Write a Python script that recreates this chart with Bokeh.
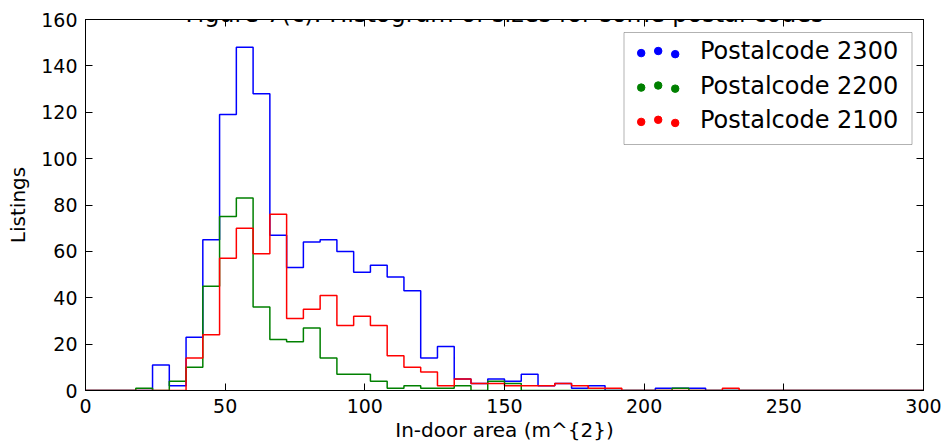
import numpy as np
from bokeh.plotting import figure
from bokeh.models import Range1d, FixedTicker, LinearAxis, Label, BoxAnnotation
from bokeh.embed import file_html
from bokeh.resources import INLINE

# ---- data -------------------------------------------------------------
bin_start = 0
bin_width = 6
n_bins = 50

counts_2300 = [0, 0, 0, 0, 11, 2, 23, 65, 119, 148, 128, 67, 53, 64, 65, 60, 51, 54,
               49, 43, 14, 19, 5, 3, 5, 4, 7, 2, 3, 1, 2, 0, 0, 0, 1, 1, 1, 0, 0, 0,
               0, 0, 0, 0, 0, 0, 0, 0, 0, 0]
counts_2200 = [0, 0, 0, 1, 0, 4, 10, 45, 75, 83, 36, 22, 21, 27, 14, 7, 7, 4,
               1, 2, 1, 1, 2, 0, 4, 3, 0, 0, 0, 0, 0, 0, 0, 0, 0, 1, 0, 0, 0, 0,
               0, 0, 0, 0, 0, 0, 0, 0, 0, 0]
counts_2100 = [0, 0, 0, 0, 0, 0, 14, 24, 57, 70, 59, 76, 31, 35, 41, 28, 32, 28,
               15, 10, 8, 2, 5, 3, 3, 2, 2, 2, 3, 2, 1, 1, 0, 0, 0, 0, 0, 0, 1, 0,
               0, 0, 0, 0, 0, 0, 0, 0, 0, 0]

series_labels = ["Postalcode 2300", "Postalcode 2200", "Postalcode 2100"]
series_counts = [counts_2300, counts_2200, counts_2100]
series_colors = ["#0000ff", "#008000", "#ff0000"]

x_ticks = [0, 50, 100, 150, 200, 250, 300]
y_ticks = [0, 20, 40, 60, 80, 100, 120, 140, 160]

title_text = "Figure 7(c): Histogram of sizes for some postal codes"
x_label = "In-door area (m^{2})"
y_label = "Listings"

FONT = "DejaVu Sans"

# ---- figure -----------------------------------------------------------
X0, X1, Y0, Y1 = 0, 300, 0, 160
FL, FR, FT, FB = 85.0, 923.0, 19.0, 390.0   # frame edges in page pixels
W, H = 943, 445
p = figure(width=W, height=H, output_backend="svg", toolbar_location=None,
           x_range=Range1d(X0, X1), y_range=Range1d(Y0, Y1),
           min_border_left=int(FL), min_border_right=int(W - FR),
           min_border_top=int(FT), min_border_bottom=int(H - FB))
p.background_fill_color = "white"
p.border_fill_color = "white"
p.outline_line_color = "black"
p.outline_line_width = 1
p.xgrid.visible = False
p.ygrid.visible = False


def style_axis(ax, ticks, show_labels=True):
    ax.ticker = FixedTicker(ticks=ticks)
    ax.major_tick_in = 7
    ax.major_tick_out = 0
    ax.minor_tick_in = 0
    ax.minor_tick_out = 0
    ax.major_tick_line_color = "black"
    ax.axis_line_color = "black"
    ax.axis_line_width = 1
    ax.major_label_text_font = FONT
    ax.axis_label_text_font = FONT
    ax.axis_label_text_font_style = "normal"
    ax.axis_label_text_color = "black"
    if show_labels:
        ax.major_label_text_color = "black"
        ax.major_label_text_font_size = "19px"
        ax.axis_label_text_font_size = "20px"
    else:
        ax.major_label_text_color = None
        ax.major_label_text_font_size = "1px"
        ax.major_label_standoff = 0


xa = p.xaxis[0]
ya = p.yaxis[0]
style_axis(xa, x_ticks)
style_axis(ya, y_ticks)
xa.axis_label = x_label
ya.axis_label = y_label
xa.major_label_standoff = 8
ya.major_label_standoff = 8
xa.axis_label_standoff = 2
ya.axis_label_standoff = 8

top_ax = LinearAxis()
right_ax = LinearAxis()
style_axis(top_ax, x_ticks, show_labels=False)
style_axis(right_ax, y_ticks, show_labels=False)
p.add_layout(top_ax, "above")
p.add_layout(right_ax, "right")

# ---- step histograms ----------------------------------------------------
edges = [bin_start + i * bin_width for i in range(n_bins + 1)]
for counts, color in zip(series_counts, series_colors):
    xs, ys = [edges[0]], [0]
    for i, c in enumerate(counts):
        xs += [edges[i], edges[i + 1]]
        ys += [c, c]
    xs.append(edges[-1])
    ys.append(0)
    p.line(xs, ys, line_color=color, line_width=1.5)

# ---- legend (matplotlib style, three scatter points) ---------------------


def dx(px):
    return X0 + (px - FL) / (FR - FL) * (X1 - X0)


def dy(py):
    return Y0 + (FB - py) / (FB - FT) * (Y1 - Y0)


p.add_layout(BoxAnnotation(left=dx(623.5), right=dx(911.5), top=dy(32), bottom=dy(144),
                           fill_color="white", fill_alpha=1.0, line_color="black",
                           line_width=1, level="annotation"))
row_y = [50.5, 85.0, 119.3]
dot_x = [640.7, 657.7, 674.7]
dot_off = [2.1, 0.0, 3.15]
for lab, color, ry in zip(series_labels, series_colors, row_y):
    p.scatter([dx(x) for x in dot_x], [dy(ry + o) for o in dot_off], size=7.5,
              fill_color=color, line_color=color, level="overlay")
    p.add_layout(Label(x=dx(699.5), y=dy(ry), text=lab, text_font=FONT,
                       text_font_size="24px", text_baseline="middle",
                       text_align="left", text_color="black", level="overlay"))

# ---- title ---------------------------------------------------------------
p.add_layout(Label(x=(X0 + X1) / 2, y=dy(13), text=title_text, text_font=FONT,
                   text_font_size="24px", text_align="center",
                   text_baseline="alphabetic", text_color="black"))

open("out.html", "w").write(file_html(p, INLINE))
